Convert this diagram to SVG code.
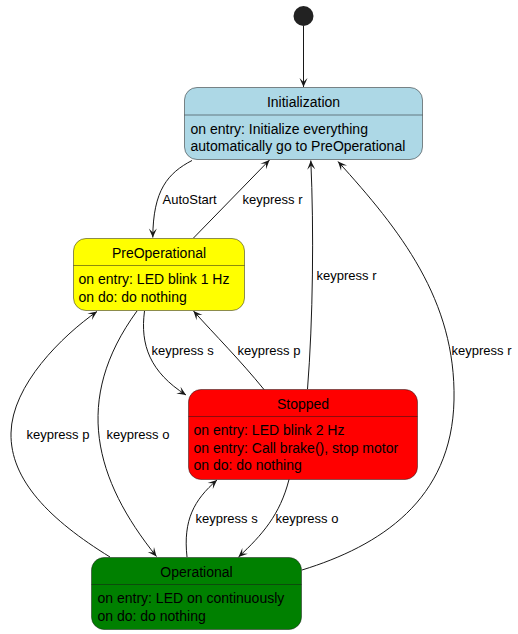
<svg xmlns="http://www.w3.org/2000/svg" width="518" height="634" viewBox="0 0 518 634">
<style>
.box{stroke:#181818;stroke-width:0.5}
.div{stroke:#181818;stroke-width:0.5}
.t{font-family:"Liberation Sans",Arial,sans-serif;font-size:14px;fill:#000}
.c{text-anchor:middle}
.l{font-family:"Liberation Sans",Arial,sans-serif;font-size:13px;fill:#000}
.e{fill:none;stroke:#181818;stroke-width:1;marker-end:url(#ah)}
</style>
<defs>
<marker id="ah" markerUnits="userSpaceOnUse" viewBox="-10 -5 11 10" markerWidth="11" markerHeight="10" refX="0" refY="0" orient="auto">
<path d="M0,0 L-9,-4 L-5,0 L-9,4 Z" fill="#181818"/>
</marker>
</defs>
<rect width="518" height="634" fill="#fff"/>
<g id="start"><circle cx="303.5" cy="16" r="10" fill="#222"/></g>
<g id="Initialization">
<rect class="box" x="184.5" y="87.5" width="238" height="72" rx="12.5" fill="#ADD8E6"/>
<line class="div" x1="184.5" y1="115" x2="422.5" y2="115"/>
<text class="t c" x="303.5" y="107">Initialization</text>
<text class="t" x="190.5" y="133.5">on entry: Initialize everything</text>
<text class="t" x="190.5" y="151">automatically go to PreOperational</text>
</g>
<g id="PreOperational">
<rect class="box" x="73.5" y="238.5" width="171" height="72" rx="12.5" fill="#FFFF00"/>
<line class="div" x1="73.5" y1="265.5" x2="244.5" y2="265.5"/>
<text class="t c" x="159" y="257.5">PreOperational</text>
<text class="t" x="78.5" y="284">on entry: LED blink 1 Hz</text>
<text class="t" x="78.5" y="301.5">on do: do nothing</text>
</g>
<g id="Stopped">
<rect class="box" x="188.5" y="389.5" width="229" height="90" rx="12.5" fill="#FF0000"/>
<line class="div" x1="188.5" y1="416.5" x2="417.5" y2="416.5"/>
<text class="t c" x="303" y="408.5">Stopped</text>
<text class="t" x="193.5" y="435">on entry: LED blink 2 Hz</text>
<text class="t" x="193.5" y="452.5">on entry: Call brake(), stop motor</text>
<text class="t" x="193.5" y="470">on do: do nothing</text>
</g>
<g id="Operational">
<rect class="box" x="91.5" y="557.5" width="210" height="72" rx="12.5" fill="#008000"/>
<line class="div" x1="91.5" y1="584.5" x2="301.5" y2="584.5"/>
<text class="t c" x="196.5" y="576.5">Operational</text>
<text class="t" x="97.5" y="603">on entry: LED on continuously</text>
<text class="t" x="97.5" y="620.5">on do: do nothing</text>
</g>
<g id="connectors">
<path class="e" d="M303.5,26 L303.5,87"/>
<path class="e" d="M192,160.5 C168,173 153,190 152.8,237.5"/>
<text class="l" x="162.5" y="203.5">AutoStart</text>
<path class="e" d="M193.5,238 L269.5,160"/>
<text class="l" x="242.5" y="203.5">keypress r</text>
<path class="e" d="M307.5,389 C313,320 314,230 310.8,160.5"/>
<text class="l" x="316.5" y="280">keypress r</text>
<path class="e" d="M302,570 C380,546 452,500 454,400 C456,300 400,230 338,161.5"/>
<text class="l" x="451.5" y="355">keypress r</text>
<path class="e" d="M264,389.5 C240,360 215,335 193.5,311"/>
<text class="l" x="237.5" y="355">keypress p</text>
<path class="e" d="M144.5,311 C140,345 150,372 186,395"/>
<text class="l" x="151.5" y="355">keypress s</text>
<path class="e" d="M137,311 C72,400 95,480 156.5,556.5"/>
<text class="l" x="106.5" y="439">keypress o</text>
<path class="e" d="M110,557 C50,520 10,480 11,433 C12,385 62,336 97,311.5"/>
<text class="l" x="26.5" y="439">keypress p</text>
<path class="e" d="M187,557 C183,520 194,500 217,480"/>
<text class="l" x="195.5" y="522.5">keypress s</text>
<path class="e" d="M289,479.5 C280,515 262,535 238.5,557"/>
<text class="l" x="275.5" y="522.5">keypress o</text>
</g>
</svg>
